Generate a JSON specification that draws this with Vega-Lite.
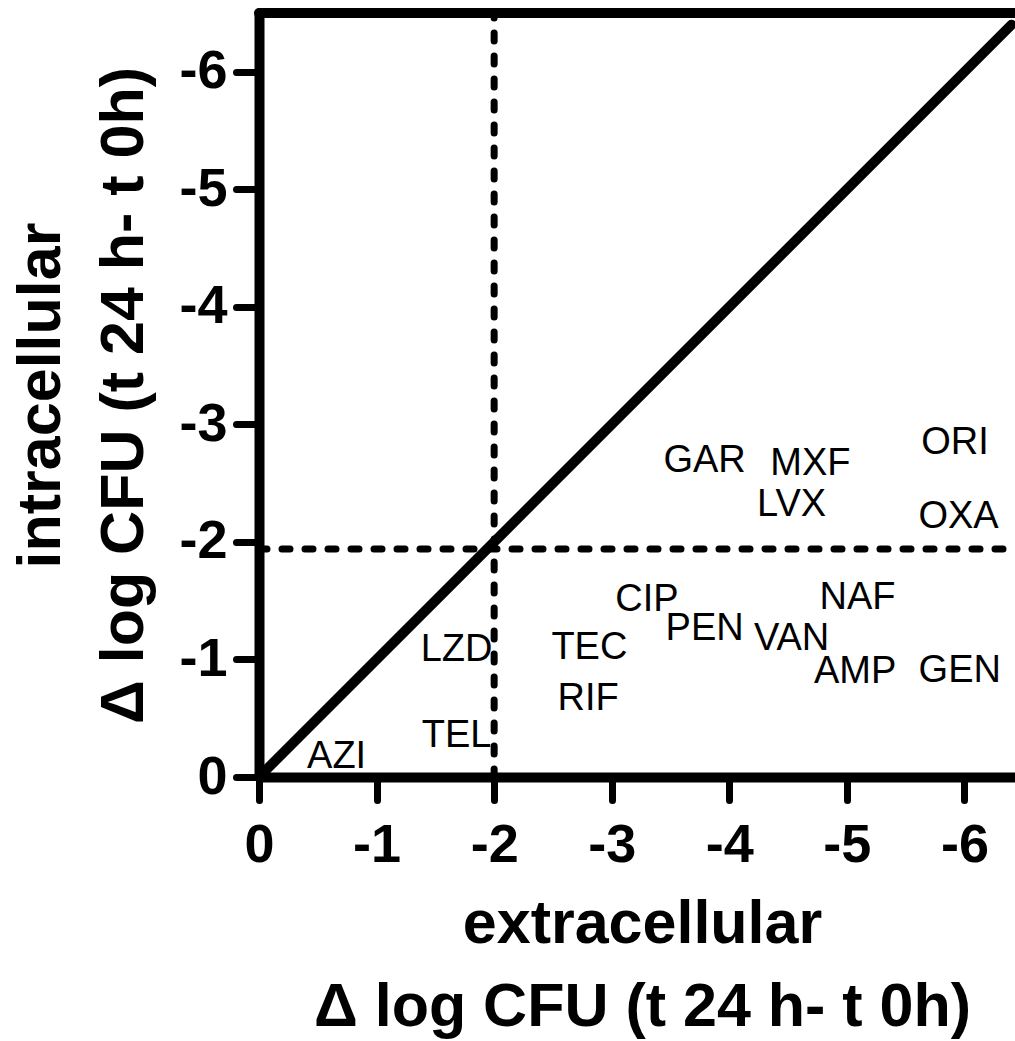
{
  "$schema": "https://vega.github.io/schema/vega-lite/v6.json",
  "width": 756,
  "height": 764,
  "autosize": {"type": "none"},
  "padding": {"left": 259, "top": 13, "right": 0, "bottom": 264},
  "background": "white",
  "config": {
    "view": {"stroke": null},
    "axis": {
      "grid": false,
      "domainWidth": 10,
      "domainColor": "black",
      "domainCap": "round",
      "tickWidth": 7,
      "tickSize": 23,
      "tickCap": "round",
      "tickColor": "black",
      "labelFont": "Liberation Sans",
      "labelFontSize": 54,
      "labelFontWeight": "bold",
      "labelColor": "black",
      "labelFlush": false,
      "labelOverlap": false,
      "titleFont": "Liberation Sans",
      "titleFontSize": 61,
      "titleFontWeight": "bold",
      "titleColor": "black",
      "titleLineHeight": 83,
      "titleBaseline": "top"
    }
  },
  "datasets": {
    "drugs": [
      {"drug": "AZI", "extracellular": -0.66, "intracellular": -0.17},
      {"drug": "TEL", "extracellular": -1.68, "intracellular": -0.35},
      {"drug": "LZD", "extracellular": -1.68, "intracellular": -1.08},
      {"drug": "TEC", "extracellular": -2.81, "intracellular": -1.10},
      {"drug": "RIF", "extracellular": -2.80, "intracellular": -0.66},
      {"drug": "CIP", "extracellular": -3.30, "intracellular": -1.51},
      {"drug": "PEN", "extracellular": -3.79, "intracellular": -1.26},
      {"drug": "VAN", "extracellular": -4.53, "intracellular": -1.17},
      {"drug": "NAF", "extracellular": -5.09, "intracellular": -1.52},
      {"drug": "AMP", "extracellular": -5.07, "intracellular": -0.89},
      {"drug": "GEN", "extracellular": -5.96, "intracellular": -0.90},
      {"drug": "GAR", "extracellular": -3.79, "intracellular": -2.69},
      {"drug": "MXF", "extracellular": -4.69, "intracellular": -2.66},
      {"drug": "LVX", "extracellular": -4.53, "intracellular": -2.31},
      {"drug": "ORI", "extracellular": -5.92, "intracellular": -2.84},
      {"drug": "OXA", "extracellular": -5.95, "intracellular": -2.21}
    ],
    "diagonal": [
      {"extracellular": 0, "intracellular": 0},
      {"extracellular": -6.4, "intracellular": -6.4}
    ],
    "thresholds": [
      {"extracellular": -2, "intracellular": -1.94}
    ]
  },
  "layer": [
    {
      "data": {"name": "thresholds"},
      "mark": {"type": "rule", "color": "black", "strokeWidth": 7, "strokeDash": [8, 15], "strokeCap": "round"},
      "encoding": {
        "x": {
          "field": "extracellular",
          "type": "quantitative",
          "scale": {"domain": [0, -6.43], "nice": false, "zero": false},
          "axis": {
            "values": [0, -1, -2, -3, -4, -5, -6],
            "labelExpr": "datum.value == 0 ? '0' : '-' + abs(datum.value)",
            "labelPadding": 18,
            "title": ["extracellular", "Δ log CFU (t 24 h- t 0h)"],
            "titleX": 383,
            "titleY": 117,
            "titleAlign": "center"
          }
        },
        "y": {
          "datum": 0,
          "type": "quantitative",
          "scale": {"domain": [0, -6.5], "nice": false, "zero": false},
          "axis": {
            "values": [0, -1, -2, -3, -4, -5, -6],
            "labelExpr": "datum.value == 0 ? '0' : '-' + abs(datum.value)",
            "labelPadding": 9,
            "title": ["intracellular", "Δ log CFU (t 24 h- t 0h)"],
            "titleX": -248,
            "titleY": 382,
            "titleAngle": 270,
            "titleAlign": "center"
          }
        },
        "y2": {"datum": -6.5}
      }
    },
    {
      "data": {"name": "thresholds"},
      "mark": {"type": "rule", "color": "black", "strokeWidth": 7, "strokeDash": [8, 15], "strokeCap": "round"},
      "encoding": {
        "y": {"field": "intracellular", "type": "quantitative"},
        "x": {"datum": 0, "type": "quantitative"},
        "x2": {"datum": -6.43}
      }
    },
    {
      "data": {"name": "thresholds"},
      "mark": {"type": "rule", "color": "black", "strokeWidth": 10, "strokeCap": "round"},
      "encoding": {
        "y": {"datum": -6.5, "type": "quantitative"}
      }
    },
    {
      "data": {"name": "diagonal"},
      "mark": {"type": "line", "color": "black", "strokeWidth": 10, "strokeCap": "round"},
      "encoding": {
        "x": {"field": "extracellular", "type": "quantitative"},
        "y": {"field": "intracellular", "type": "quantitative"}
      }
    },
    {
      "data": {"name": "drugs"},
      "mark": {"type": "text", "font": "Liberation Sans", "fontSize": 38, "align": "center", "baseline": "middle", "color": "black"},
      "encoding": {
        "x": {"field": "extracellular", "type": "quantitative"},
        "y": {"field": "intracellular", "type": "quantitative"},
        "text": {"field": "drug", "type": "nominal"}
      }
    }
  ]
}
